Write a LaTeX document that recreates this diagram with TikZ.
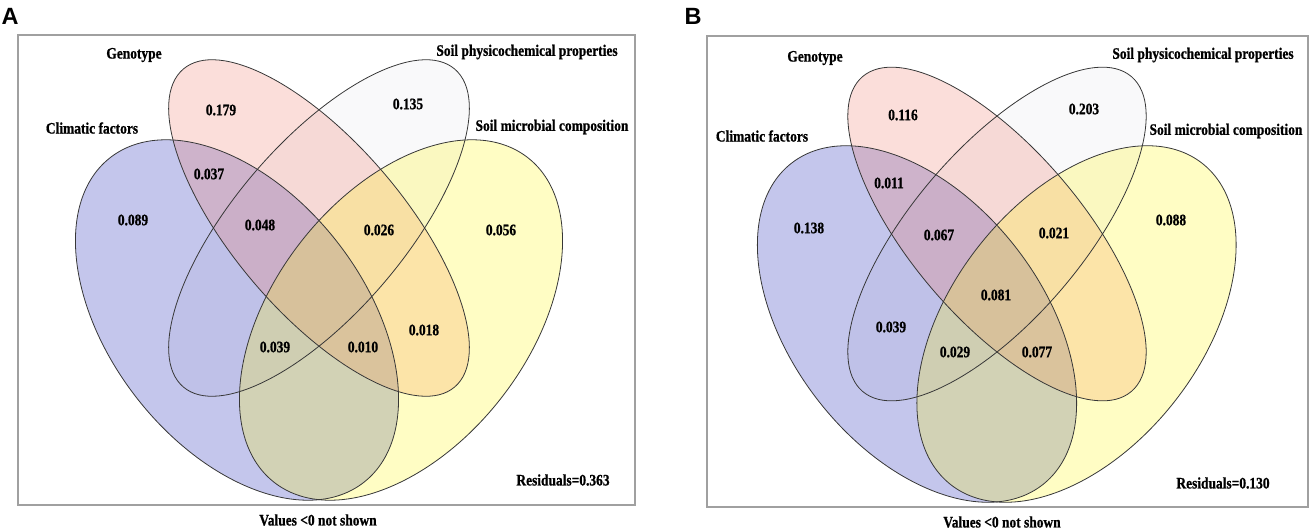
\documentclass[tikz,border=0pt]{standalone}
\usepackage{fontspec}
\setmainfont{Liberation Serif}[FakeStretch=0.84, BoldFeatures={FakeBold=0.8}]
\newfontfamily\panelfont{Liberation Sans}
\definecolor{cblue}{RGB}{19,27,179}
\definecolor{cpink}{RGB}{239,123,107}
\definecolor{cwhite}{RGB}{231,231,235}
\definecolor{cyellow}{RGB}{255,247,19}
\definecolor{cline}{RGB}{55,55,55}
\definecolor{cframe}{RGB}{160,160,160}
\begin{document}
\begin{tikzpicture}[x=1pt,y=1pt,yscale=-1,
  lab/.style={font=\fontsize{16}{19}\selectfont\bfseries, inner sep=0pt},
  pan/.style={font=\panelfont\fontsize{23.5}{26}\selectfont\bfseries, inner sep=0pt},
  frame/.style={draw=cframe, line width=1.3pt},
  outl/.style={draw=cline, line width=0.8pt},
  fl/.style={fill opacity=0.25},
  ]
\useasboundingbox (0,0) rectangle (1312,531);

% ---------- Panel A ----------
\fill[fl, cwhite, rotate around={-49.5:(319,228)}] (319,228) ellipse [x radius=209pt, y radius=85pt];
\fill[fl, cblue, rotate around={52:(237,320)}] (237,320) ellipse [x radius=206pt, y radius=127pt];
\fill[fl, cpink, rotate around={49.5:(319,228)}] (319,228) ellipse [x radius=209pt, y radius=85pt];
\fill[fl, cyellow, rotate around={-52:(401,320)}] (401,320) ellipse [x radius=206pt, y radius=127pt];
\draw[outl, rotate around={52:(237,320)}] (237,320) ellipse [x radius=206pt, y radius=127pt];
\draw[outl, rotate around={-52:(401,320)}] (401,320) ellipse [x radius=206pt, y radius=127pt];
\draw[outl, rotate around={49.5:(319,228)}] (319,228) ellipse [x radius=209pt, y radius=85pt];
\draw[outl, rotate around={-49.5:(319,228)}] (319,228) ellipse [x radius=209pt, y radius=85pt];
\draw[frame] (18,35) rectangle (635,505);

\node[pan] (pA) at (10,16) {A};
\node[lab] (gA) at (134,55) {Genotype};
\node[lab] (sA) at (527,52) {Soil physicochemical properties};
\node[lab] (cA) at (92,128) {Climatic factors};
\node[lab] (mA) at (552,127) {Soil microbial composition};
\node[lab] (a1) at (221,110) {0.179};
\node[lab] (a2) at (408,104) {0.135};
\node[lab] (a3) at (209,174) {0.037};
\node[lab] (a4) at (133,220) {0.089};
\node[lab] (a5) at (260,225) {0.048};
\node[lab] (a6) at (379,230) {0.026};
\node[lab] (a7) at (501,230) {0.056};
\node[lab] (a8) at (424,330) {0.018};
\node[lab] (a9) at (275,347) {0.039};
\node[lab] (a10) at (363,347) {0.010};
\node[lab] (rA) at (563,480) {Residuals=0.363};
\node[lab] (vA) at (318,520) {Values <0 not shown};

% ---------- Panel B ----------
\fill[fl, cwhite, rotate around={-49.5:(997,234)}] (997,234) ellipse [x radius=207pt, y radius=85pt];
\fill[fl, cblue, rotate around={52:(917,324)}] (917,324) ellipse [x radius=204pt, y radius=125pt];
\fill[fl, cpink, rotate around={49.5:(997,234)}] (997,234) ellipse [x radius=207pt, y radius=85pt];
\fill[fl, cyellow, rotate around={-52:(1076.5,324)}] (1076.5,324) ellipse [x radius=204pt, y radius=125pt];
\draw[outl, rotate around={52:(917,324)}] (917,324) ellipse [x radius=204pt, y radius=125pt];
\draw[outl, rotate around={-52:(1076.5,324)}] (1076.5,324) ellipse [x radius=204pt, y radius=125pt];
\draw[outl, rotate around={49.5:(997,234)}] (997,234) ellipse [x radius=207pt, y radius=85pt];
\draw[outl, rotate around={-49.5:(997,234)}] (997,234) ellipse [x radius=207pt, y radius=85pt];
\draw[frame] (707,36) rectangle (1308,507);

\node[pan] (pB) at (693,16) {B};
\node[lab] (gB) at (815,58) {Genotype};
\node[lab] (sB) at (1203,55) {Soil physicochemical properties};
\node[lab] (cB) at (762,136) {Climatic factors};
\node[lab] (mB) at (1226,131) {Soil microbial composition};
\node[lab] (b1) at (903,115) {0.116};
\node[lab] (b2) at (1084,109) {0.203};
\node[lab] (b3) at (889,183) {0.011};
\node[lab] (b4) at (809,228) {0.138};
\node[lab] (b5) at (939,235) {0.067};
\node[lab] (b6) at (1054,233) {0.021};
\node[lab] (b7) at (1171,220) {0.088};
\node[lab] (b8) at (996,295) {0.081};
\node[lab] (b9) at (891,327) {0.039};
\node[lab] (b10) at (955,352) {0.029};
\node[lab] (b11) at (1037,352) {0.077};
\node[lab] (rB) at (1223,483) {Residuals=0.130};
\node[lab] (vB) at (1002,522) {Values <0 not shown};
\end{tikzpicture}
\end{document}
